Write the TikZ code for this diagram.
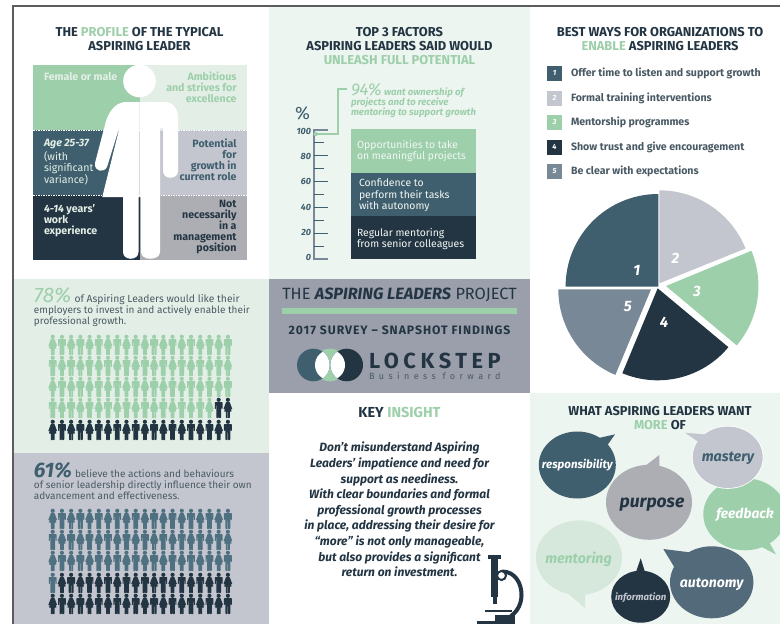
\documentclass[tikz,border=0pt]{standalone}
\usepackage{fontspec}
\setmainfont{Fira Sans}
\usepackage{xcolor}
\definecolor{cgreen}{HTML}{9DCFAB}
\definecolor{clight}{HTML}{E3EFE6}
\definecolor{cpale}{HTML}{ECF5EF}
\definecolor{cteal}{HTML}{3F5F6F}
\definecolor{cdark}{HTML}{233543}
\definecolor{csilver}{HTML}{C3C6CE}
\definecolor{cgrey}{HTML}{ADAEB3}
\definecolor{cslate}{HTML}{788896}
\definecolor{cband}{HTML}{9A9FAB}
\definecolor{cbody}{HTML}{4A5A64}
\definecolor{cfig}{HTML}{4F7080}
\definecolor{cauto}{HTML}{526A7A}
\definecolor{cment}{HTML}{D5E8DB}
\definecolor{cline}{HTML}{5C5C5C}
\definecolor{cstack}{HTML}{F2F8F4}
\newcommand{\fs}[2]{\fontsize{#1}{#2}\selectfont}
\newcommand{\hl}[1]{\textcolor{cgreen}{#1}}
\newfontfamily\spacedfont[LetterSpace=8]{Fira Sans}
\newfontfamily\logofont[LetterSpace=21]{Fira Sans}
\newfontfamily\tagfont[LetterSpace=49]{Fira Sans}
\tikzset{
  txt/.style={inner sep=0pt,outer sep=0pt},
  ttl/.style={txt,align=center,text=cdark,font=\bfseries\fs{12.9}{14}},
  profL/.style={txt,align=left,anchor=north west,font=\bfseries\fs{10.6}{11}},
  profR/.style={txt,align=right,anchor=north east,font=\bfseries\fs{10.6}{11}},
  tick/.style={txt,anchor=east,text=cteal,font=\bfseries\itshape\fs{9}{10}},
  stack/.style={txt,align=left,anchor=west,text=cstack,font=\fs{10.4}{11.5}},
  item/.style={txt,anchor=west,text=cbody,font=\bfseries\fs{10.6}{11}},
  sq/.style={minimum size=15pt,inner sep=0pt,text=white,font=\bfseries\itshape\fs{7.5}{8}},
  pielab/.style={txt,text=white,font=\bfseries\itshape\fs{15}{16}},
  para/.style={txt,align=left,anchor=north west,text=cbody,font=\fs{10}{11.2}},
  big/.style={txt,anchor=base west,font=\itshape\fs{21}{22}},
  word/.style={txt,font=\bfseries\itshape},
  male/.pic={\fill[pic actions] (0,-8.2) circle (2.1pt);
    \fill[pic actions,rounded corners=0.6pt] (-3.9,-6)--(3.9,-6)--(3.9,1)--(2.8,1)--(2.8,-3)--(2.4,-3)--(2.4,10)--(0.15,10)--(0.15,2)--(-0.15,2)--(-0.15,10)--(-2.4,10)--(-2.4,-3)--(-2.8,-3)--(-2.8,1)--(-3.9,1)--cycle;},
  female/.pic={\fill[pic actions] (0,-8.2) circle (2.1pt);
    \fill[pic actions,rounded corners=0.4pt] (-1.8,-6)--(1.8,-6)--(4.4,1)--(3.4,1.4)--(1.9,-2)--(3.8,3.5)--(1.9,3.5)--(1.9,10)--(0.15,10)--(0.15,3.5)--(-0.15,3.5)--(-0.15,10)--(-1.9,10)--(-1.9,3.5)--(-3.8,3.5)--(-1.9,-2)--(-3.4,1.4)--(-4.4,1)--cycle;},
}
% #1 row/centre-y list, #2 threshold, #3 first colour, #4 second colour
\newcommand{\peopleblock}[4]{%
  \foreach \rw/\yy in {#1}{%
    \foreach \cl in {1,...,20}{%
      \pgfmathtruncatemacro{\idx}{(\rw-1)*20+\cl}%
      \pgfmathtruncatemacro{\parity}{mod(\rw+\cl,2)}%
      \pgfmathsetmacro{\xx}{52.7+(\cl-1)*9.22}%
      \ifnum\idx>#2\def\figcol{#4}\else\def\figcol{#3}\fi
      \ifnum\parity=0 \pic[fill=\figcol] at (\xx,\yy) {female};\else \pic[fill=\figcol] at (\xx,\yy) {male};\fi
    }%
  }%
}
% bubble: cx cy rx ry colour ; tail a b tip
\newcommand{\bubble}[8]{%
  \fill[#5] (#1,#2) ellipse [x radius=#3pt,y radius=#4pt];
  \fill[#5] #6 -- #7 -- #8 -- cycle;
}
\begin{document}
\begin{tikzpicture}[x=1pt,y=-1pt]
\useasboundingbox (0,0) rectangle (780,624);
\fill[white] (0,0) rectangle (780,624);
\begin{scope}
\clip (0,0) rectangle (780,624);
% panels
\fill[cpale] (269,7) rectangle (530,279);
\fill[clight] (13,279) rectangle (269,453);
\fill[csilver] (13,453) rectangle (269,624);
\fill[cband] (269,279) rectangle (530,393);
\fill[cpale] (530,393) rectangle (780,624);
\fill[cline] (12,5) rectangle (780,7);
\fill[cline] (11.5,5) rectangle (13.5,624);

% ---- profile
\node[ttl] (t1) at (139.5,39) {THE \hl{PROFILE} OF THE TYPICAL\\ASPIRING LEADER};
\fill[cgreen] (33,65) rectangle (139.5,130);
\fill[clight] (139.5,65) rectangle (247,130);
\fill[cteal] (33,130) rectangle (139.5,195);
\fill[csilver] (139.5,130) rectangle (247,195);
\fill[cdark] (33,195) rectangle (139.5,260);
\fill[cgrey] (139.5,195) rectangle (247,260);
\draw[white,dashed,dash pattern=on 1.5pt off 1pt,line width=0.8pt] (33,130)--(247,130) (33,195)--(247,195);
\fill[white] (139.5,81) circle (16.3pt);
\fill[white] (139.5,102) -- (127,102) .. controls (118,102) and (111,107) .. (106,121) -- (95,163) .. controls (94,172) and (104,173) .. (107,167) -- (120.7,123) -- (102.3,197) -- (123,197) -- (123,252) .. controls (123,261) and (138.5,261) .. (138.5,252) -- (138.5,197) -- (139.5,197) -- cycle;
\fill[white] (139.5,102) -- (165,102) .. controls (173,102) and (178,109) .. (178,118) -- (178,171) .. controls (178,180) and (163,180) .. (163,171) -- (163,128) -- (160,128) -- (160,252) .. controls (160,261) and (141,261) .. (141,252) -- (141,197) -- (139.5,197) -- cycle;
\node[profL,text=clight] (pa) at (44,72) {Female or male};
\node[profR,text=cgreen] (pb) at (236.5,72) {Ambitious\\and strives for\\excellence};
\node[profL,text=clight,font=\fs{10.6}{11}] (pc) at (44,139) {\bfseries\itshape Age 25-37\\[2pt](with\\significant\\variance)};
\node[profR,text=cteal] (pd) at (236.5,139) {Potential\\for\\growth in\\current role};
\node[profL,text=clight] (pe) at (44,204) {\textit{4-14} years’\\work\\experience};
\node[profR,text=cdark] (pf) at (236.5,200.5) {Not\\necessarily\\in a\\management\\position};

% ---- top 3
\node[ttl] (t2) at (399.5,46) {TOP 3 FACTORS\\ASPIRING LEADERS SAID WOULD\\\hl{UNLEASH FULL POTENTIAL}};
\node[txt,text=cteal,font=\fs{18}{20}] (pct) at (302.5,113.5) {\%};
\draw[cslate,line width=1.3pt] (328,130) -- (314,130) -- (314,259) -- (328,259);
\foreach \yy in {155,181,207,233}{\draw[cteal,line width=0.9pt] (314,\yy) -- (328,\yy);}
\foreach \yy in {142,168,194,220,246}{\draw[cteal,line width=0.9pt] (314,\yy) -- (324,\yy);}
\foreach \lab/\yy in {100/131,80/156,60/181,40/207,20/232,0/257}{\node[tick] (tk\lab) at (311,\yy) {\lab};}
\coordinate (mk) at (315.5,134);
\coordinate (mk2) at (347,89);
\fill[cgreen] (mk) circle (2.2pt);
\draw[cgreen,line width=1.6pt] (mk) -| (338,89) -- (mk2);
\node[txt,anchor=base west,text=cgreen,font=\itshape\fs{17}{18}] (n94) at (351,95) {94\%};
\node[txt,anchor=base west,text=cgreen,font=\bfseries\itshape\fs{9.6}{10}] (n94a) at (384,95) {want ownership of};
\node[txt,anchor=north west,align=left,text=cgreen,font=\bfseries\itshape\fs{9.6}{10}] (n94b) at (351,97.5) {projects and to receive\\mentoring to support growth};
\fill[cgreen] (351,129) rectangle (476,172.5);
\fill[cteal] (351,172.5) rectangle (476,216);
\fill[cdark] (351,216) rectangle (476,259);
\node[stack] (s1) at (357,151) {Opportunities to take\\on meaningful projects};
\node[stack] (s2) at (359,195.7) {Confidence to\\perform their tasks\\with autonomy};
\node[stack] (s3) at (357,239) {Regular mentoring\\from senior colleagues};

% ---- best ways
\node[ttl] (t3) at (660,39) {BEST WAYS FOR ORGANIZATIONS TO\\\hl{ENABLE} ASPIRING LEADERS};
\foreach \n/\yy/\itemcol/\lab in {1/73/cteal/Offer time to listen and support growth,
  2/98/csilver/Formal training interventions,
  3/122/cgreen/Mentorship programmes,
  4/147/cdark/Show trust and give encouragement,
  5/171/cslate/Be clear with expectations}{
  \node[sq,fill=\itemcol] (sq\n) at (554.5,\yy) {\n};
  \node[item] (it\n) at (571,\yy) {\lab};
}
\fill[cteal] (658.3,286.7) -- ++(90:92.7pt) arc[start angle=90,end angle=180,radius=92.7pt] -- cycle;
\fill[csilver] (659.3,283.3) -- ++(90:93pt) arc[start angle=90,end angle=22,radius=93pt] -- cycle;
\fill[cgreen] (666,286) -- ++(22.4:92.4pt) arc[start angle=22.4,end angle=-40,radius=92.4pt] -- cycle;
\fill[cdark] (657.7,288.3) -- ++(-39.8:92pt) arc[start angle=-39.8,end angle=-112.6,radius=92pt] -- cycle;
\fill[cslate] (651,289.3) -- ++(180:92.7pt) arc[start angle=180,end angle=247.4,radius=92.7pt] -- cycle;
\node[pielab] (pl1) at (636.7,270) {1};
\node[pielab] (pl2) at (675.3,258.3) {2};
\node[pielab] (pl3) at (697,291) {3};
\node[pielab] (pl4) at (664,322) {4};
\node[pielab] (pl5) at (627.7,306.7) {5};

% ---- 78
\node[big,text=cgreen] (n78) at (34,302.5) {78\%};
\node[txt,anchor=base west,text=cbody,font=\fs{10.3}{11.2}] (n78a) at (74.5,302.5) {of Aspiring Leaders would like their};
\node[para] (n78b) at (34,305.5) {employers to invest in and actively enable their\\professional growth.};
\peopleblock{1/345,2/366,3/387,4/408,5/430}{78}{cgreen}{cdark}

% ---- 61
\node[big,text=cteal,font=\bfseries\itshape\fs{21}{22}] (n61) at (34,477) {61\%};
\node[txt,anchor=base west,text=cbody,font=\fs{10}{11.2}] (n61a) at (75,477.5) {believe the actions and behaviours};
\node[para] (n61b) at (34,480.5) {of senior leadership directly influence their own\\advancement and effectiveness.};
\peopleblock{1/519,2/540,3/561,4/583,5/604}{61}{cfig}{cdark}

% ---- project
\node[txt,text=cdark,font=\fs{16.3}{18}] (pj) at (399.5,295) {THE \textbf{\textit{ASPIRING LEADERS}} PROJECT};
\fill[cgreen] (282,308) rectangle (517,313.5);
\node[txt,text=cdark,font=\spacedfont\bfseries\fs{12.2}{14}] (sv) at (399.5,330) {2017 SURVEY – SNAPSHOT FINDINGS};
\fill[cgreen] (330,365) circle (16.3pt);
\fill[cteal] (313.3,365) circle (16.3pt);
\fill[cdark] (346.7,365) circle (16.3pt);
\begin{scope}\clip (313.3,365) circle (16.3pt); \fill[white] (330,365) circle (15pt);\end{scope}
\begin{scope}\clip (346.7,365) circle (16.3pt); \fill[white] (330,365) circle (15pt);\end{scope}
\node[txt,anchor=west,text=cdark,font=\logofont\bfseries\fs{21.8}{24}] (lk) at (369,360.5) {LOCKSTEP};
\node[txt,anchor=west,text=cbody,font=\tagfont\fs{9}{10}] (bf) at (369,376) {Business forward};

% ---- key insight
\node[ttl,font=\bfseries\fs{14.5}{16}] (t4) at (399.5,412) {KEY \hl{INSIGHT}};
\node[txt,align=center,text=cdark,font=\bfseries\itshape\fs{12}{15.6}] (ki) at (399.5,509.5) {Don’t misunderstand Aspiring\\Leaders’ impatience and need for\\support as neediness.\\With clear boundaries and formal\\professional growth processes\\in place, addressing their desire for\\“more” is not only manageable,\\but also provides a significant\\return on investment.};
% microscope
\fill[cdark] (488,555) rectangle (501,558.5);
\fill[cdark] (491,558.5) rectangle (498,597);
\fill[cdark] (492.5,597) rectangle (496.5,604);
\draw[cdark,line width=4pt] (502,571.5) .. controls (515,571.5) and (521.5,583) .. (521.5,595) .. controls (521.5,603) and (518,611) .. (511,616);
\fill[white,draw=cdark,line width=2pt] (501.5,575.5) circle (4.5pt);
\fill[cdark] (484.5,609.5) rectangle (512,612);
\fill[cdark] (495,615) rectangle (515,621);
\fill[cdark] (477,621) rectangle (515,624);

% ---- bubbles
\node[ttl] (t5) at (660,418) {WHAT ASPIRING LEADERS WANT\\\hl{MORE} OF};
\bubble{745}{514.3}{41.7}{36}{cgreen}{(758,545)}{(768,540)}{(776,554.5)}
\fill[white] (727.7,457.3) ellipse [x radius=35.8pt,y radius=31.5pt];
\bubble{727.7}{457.3}{35}{30.7}{csilver}{(703,445)}{(712,435)}{(685,432.7)}
\bubble{577.3}{465}{38.5}{33.5}{cteal}{(590,440)}{(604,450)}{(615,434.3)}
\bubble{649}{502.3}{43}{37.5}{cgrey}{(640,470)}{(659.3,472)}{(659.3,455)}
\bubble{579}{557.7}{43}{37.3}{cment}{(564,590)}{(585,590)}{(585,608)}
\bubble{711.7}{582.3}{41.7}{36}{cauto}{(676,570)}{(695,553)}{(663.3,549)}
\bubble{640.7}{596.7}{29.5}{26}{cdark}{(636,572)}{(645,572)}{(640.7,558.3)}
\node[word,text=white,font=\bfseries\itshape\fs{11.5}{13}] (b1) at (577.3,465.5) {responsibility};
\node[word,text=cdark,font=\bfseries\itshape\fs{17.5}{20}] (b2) at (652,504.5) {purpose};
\node[word,text=cteal,font=\bfseries\itshape\fs{14.3}{16}] (b3) at (728,458) {mastery};
\node[word,text=white,font=\bfseries\itshape\fs{13.8}{16}] (b4) at (745,515) {feedback};
\node[word,text=cgreen,font=\bfseries\itshape\fs{14.2}{16}] (b5) at (578.5,559) {mentoring};
\node[word,text=csilver,font=\bfseries\itshape\fs{9.6}{11}] (b6) at (640.7,597.5) {information};
\node[word,text=white,font=\bfseries\itshape\fs{14}{16}] (b7) at (711.7,584) {autonomy};
\end{scope}
\end{tikzpicture}
\end{document}
